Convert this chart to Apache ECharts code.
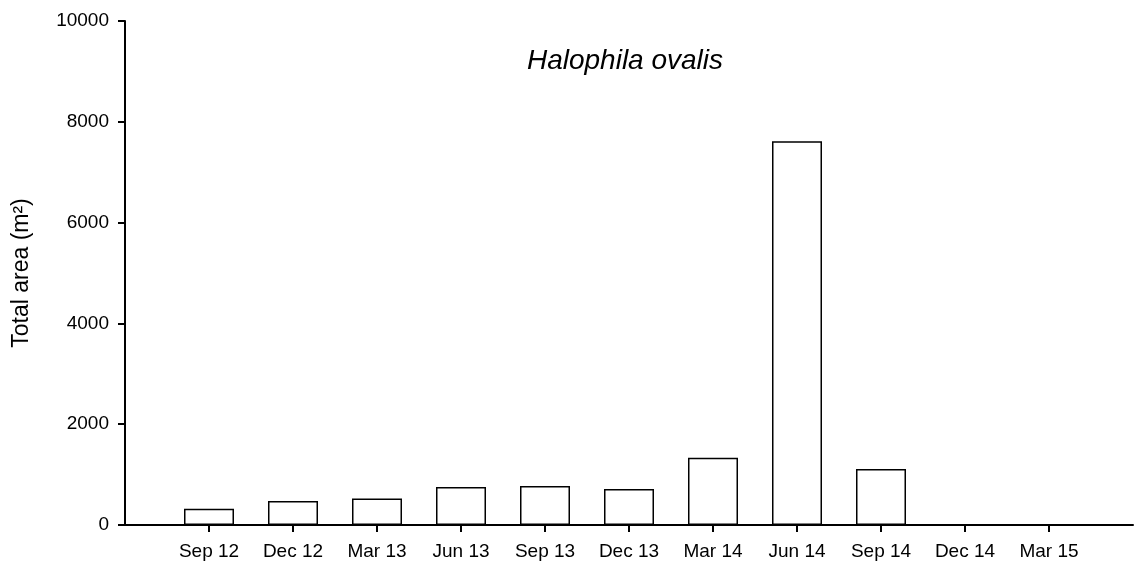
<!DOCTYPE html>
<html>
<head>
<meta charset="utf-8">
<script src="https://cdn.jsdelivr.net/npm/echarts@6/dist/echarts.min.js"></script>
<style>
  html, body { margin: 0; padding: 0; background: #fff; }
  #main { width: 1136px; height: 574px; }
</style>
</head>
<body>
<div id="main"></div>
<script>
// sampling dates and total area (m2) of Halophila ovalis
const months = ["Sep 12", "Dec 12", "Mar 13", "Jun 13", "Sep 13", "Dec 13", "Mar 14", "Jun 14", "Sep 14", "Dec 14", "Mar 15"];
const totalArea = [320, 475, 527, 752, 772, 713, 1333, 7616, 1109, 0, 0];
const yTicks = [0, 2000, 4000, 6000, 8000, 10000];

// one empty slot on each side so the bars sit one band in from the axes
const cats = [""].concat(months, [""]);
const vals = ["-"].concat(totalArea, ["-"]);

const font = "'Liberation Sans', Arial, sans-serif";
const axisColor = "#000";

var myChart = echarts.init(document.getElementById("main"));

const options = {
  animation: false,
  backgroundColor: "#fff",
  title: {
    text: "Halophila ovalis",
    left: 620,
    top: 42,
    textAlign: "center",
    textStyle: {
      fontFamily: font,
      fontStyle: "italic",
      fontWeight: "normal",
      fontSize: 28,
      color: "#000"
    }
  },
  grid: {
    left: 125,
    right: 1,
    top: 21,
    bottom: 49,
    containLabel: false
  },
  xAxis: {
    type: "category",
    data: cats,
    boundaryGap: false,
    axisLine: { lineStyle: { color: axisColor, width: 2 } },
    axisTick: {
      length: 7,
      lineStyle: { color: axisColor, width: 2 },
      interval: function (idx, val) { return val !== ""; }
    },
    axisLabel: {
      interval: 0,
      margin: 17,
      fontFamily: font,
      fontSize: 19,
      color: "#000"
    },
    splitLine: { show: false }
  },
  yAxis: {
    type: "value",
    min: yTicks[0],
    max: yTicks[yTicks.length - 1],
    interval: yTicks[1] - yTicks[0],
    name: "Total area (m²)",
    nameLocation: "middle",
    nameGap: 92,
    nameTextStyle: {
      fontFamily: font,
      fontSize: 23,
      color: "#000"
    },
    axisLine: { show: true, lineStyle: { color: axisColor, width: 2 } },
    axisTick: { show: true, length: 7, lineStyle: { color: axisColor, width: 2 } },
    axisLabel: {
      margin: 16,
      fontFamily: font,
      fontSize: 19,
      color: "#000",
      formatter: function (v) { return String(v); }
    },
    splitLine: { show: false }
  },
  series: [
    {
      type: "bar",
      data: vals,
      barWidth: 50,
      itemStyle: {
        color: "#fff",
        borderColor: "#000",
        borderWidth: 1.5
      }
    }
  ]
};

myChart.setOption(options);

window.onresize = function () {
  myChart.resize();
};
</script>
</body>
</html>
